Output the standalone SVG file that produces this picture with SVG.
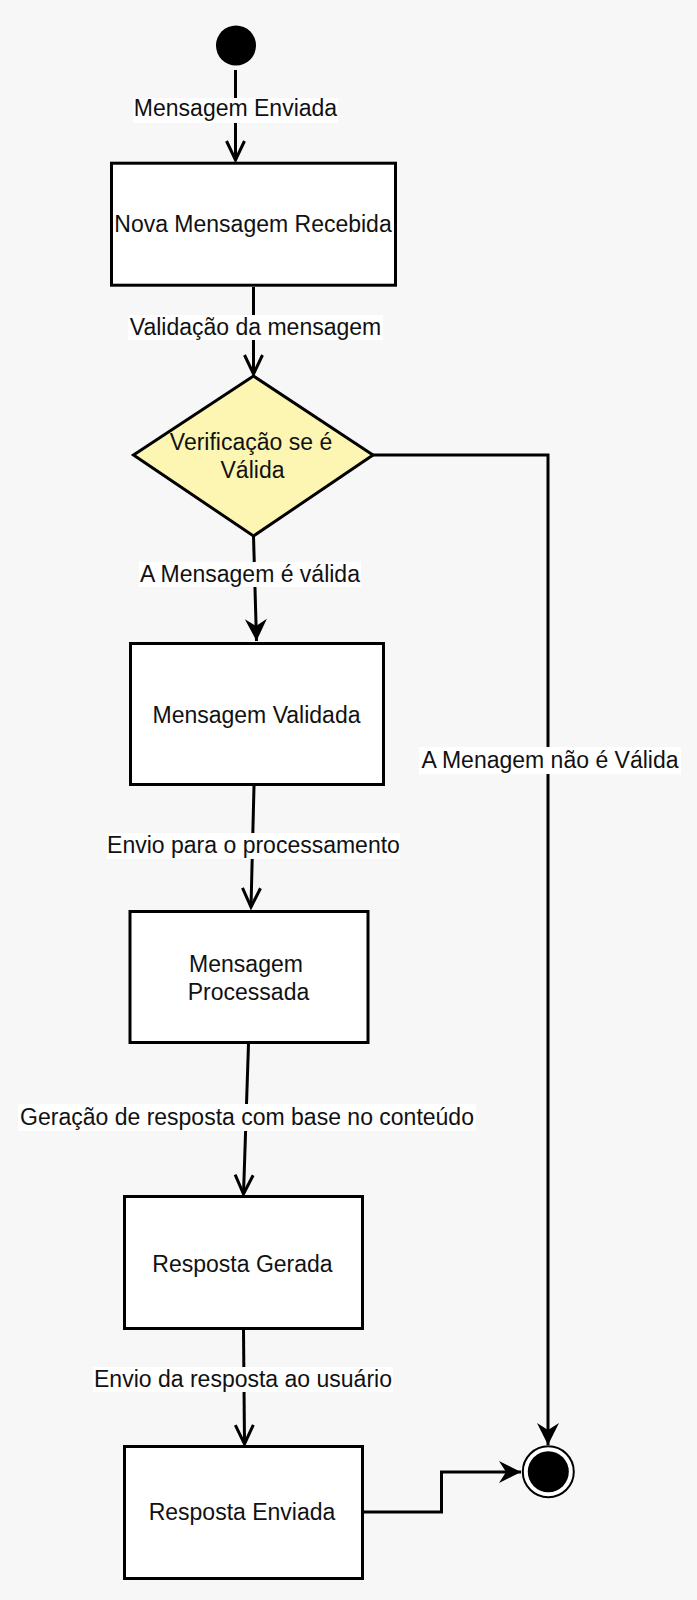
<svg xmlns="http://www.w3.org/2000/svg" width="697" height="1600" viewBox="0 0 697 1600">
<style>
.bg{fill:#f7f7f7}
.box{fill:#ffffff;stroke:#000;stroke-width:3}
.dia{fill:#fcf6b2;stroke:#000;stroke-width:3;stroke-linejoin:miter}
.t{font-family:"Liberation Sans",Arial,Helvetica,sans-serif;font-size:23px;fill:#111;text-anchor:middle}
.lbg{fill:#ffffff}
.c{fill:none;stroke:#000;stroke-width:3}
</style>
<defs>
<marker id="open" markerUnits="userSpaceOnUse" orient="auto" refX="0" refY="0" markerWidth="30" markerHeight="30" overflow="visible">
<path d="M-19,-9 L0,0 L-19,9" fill="none" stroke="#000" stroke-width="3"/>
</marker>
<marker id="classic" markerUnits="userSpaceOnUse" orient="auto" refX="0" refY="0" markerWidth="30" markerHeight="30" overflow="visible">
<path d="M0,0 L-22,-11 L-15,0 L-22,11 Z" fill="#000"/>
</marker>
</defs>
<rect class="bg" x="0" y="0" width="697" height="1600"/>

<g id="connectors">
<path class="c" d="M235.5,70 L235.5,160" marker-end="url(#open)"/>
<path class="c" d="M253.5,287 L253.5,374" marker-end="url(#open)"/>
<path class="c" d="M253.5,536 L256.5,641" marker-end="url(#classic)"/>
<path class="c" d="M373,455 L548,455 L548,1445" marker-end="url(#classic)"/>
<path class="c" d="M254,786 L251,907" marker-end="url(#open)"/>
<path class="c" d="M248.5,1044 L243.5,1194" marker-end="url(#open)"/>
<path class="c" d="M243.5,1330 L244.5,1444" marker-end="url(#open)"/>
<path class="c" d="M364,1512 L441.5,1512 L441.5,1472 L521,1472" marker-end="url(#classic)"/>
<g id="labels">
<rect class="lbg" x="133" y="98" width="205" height="25"/>
<text class="t" x="235.5" y="115.5">Mensagem Enviada</text>
<rect class="lbg" x="128" y="315" width="255" height="25"/>
<text class="t" x="255.5" y="335">Validação da mensagem</text>
<rect class="lbg" x="139" y="562" width="222" height="25"/>
<text class="t" x="250" y="582">A Mensagem é válida</text>
<rect class="lbg" x="107" y="833" width="293" height="26"/>
<text class="t" x="253.5" y="853">Envio para o processamento</text>
<rect class="lbg" x="419" y="747" width="262" height="27"/>
<text class="t" x="550" y="768">A Menagem não é Válida</text>
<rect class="lbg" x="18" y="1104" width="458" height="27"/>
<text class="t" x="247" y="1125">Geração de resposta com base no conteúdo</text>
<rect class="lbg" x="93" y="1367" width="300" height="25"/>
<text class="t" x="243" y="1386.5">Envio da resposta ao usuário</text>
</g>
</g>

<g id="start">
<circle cx="236" cy="45.5" r="20" fill="#000"/>
</g>

<g id="nova">
<rect class="box" x="111.5" y="163.2" width="284" height="122"/>
<text class="t" x="253" y="232">Nova Mensagem Recebida</text>
</g>

<g id="verificacao">
<polygon class="dia" points="253.5,376 373,455 253.5,536 133.5,455"/>
<text class="t" x="251" y="450">Verificação se é</text>
<text class="t" x="252.5" y="478">Válida</text>
</g>

<g id="validada">
<rect class="box" x="130.5" y="643.5" width="253" height="141"/>
<text class="t" x="256.5" y="722.5">Mensagem Validada</text>
</g>

<g id="processada">
<rect class="box" x="130" y="911.5" width="238" height="131"/>
<text class="t" x="246" y="971.5">Mensagem</text>
<text class="t" x="248.5" y="1000">Processada</text>
</g>

<g id="gerada">
<rect class="box" x="124.5" y="1196.5" width="238" height="132"/>
<text class="t" x="242.5" y="1271.5">Resposta Gerada</text>
</g>

<g id="enviada">
<rect class="box" x="124.5" y="1446.5" width="238" height="132"/>
<text class="t" x="242" y="1520">Resposta Enviada</text>
</g>

<g id="end">
<circle cx="548.3" cy="1471.7" r="25.5" fill="#ffffff" stroke="#000" stroke-width="2"/>
<circle cx="548.3" cy="1471.7" r="20.5" fill="#000"/>
</g>
</svg>
